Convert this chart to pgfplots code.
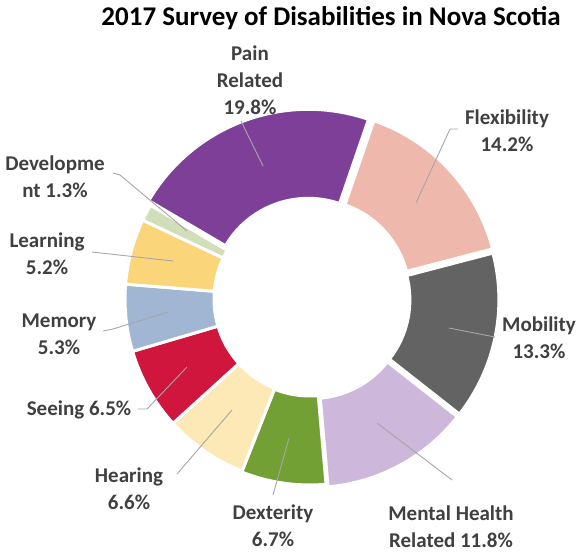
\documentclass[border=0pt]{standalone}
\usepackage{fontspec}
\setmainfont{Carlito}
\usepackage{pgfplots}
\usepackage{pgfplotstable}
\pgfplotsset{compat=1.18}
\definecolor{cFlex}{HTML}{EFB8AD}
\definecolor{cMob}{HTML}{636363}
\definecolor{cMent}{HTML}{CDB8DC}
\definecolor{cDex}{HTML}{72A035}
\definecolor{cHear}{HTML}{FDE9B6}
\definecolor{cSee}{HTML}{D0163D}
\definecolor{cMem}{HTML}{A0B6D2}
\definecolor{cLearn}{HTML}{FBD57A}
\definecolor{cDev}{HTML}{D0DEB9}
\definecolor{cPain}{HTML}{7E3F98}
\definecolor{lbl}{HTML}{404040}
\definecolor{lead}{HTML}{A6A6A6}

\pgfplotstableread{
name value expl col
Flexibility 14.2 5 cFlex
Mobility 13.3 4 cMob
MentalHealthRelated 11.8 4 cMent
Dexterity 6.7 1 cDex
Hearing 6.6 0 cHear
Seeing 6.5 0 cSee
Memory 5.3 0 cMem
Learning 5.2 0 cLearn
Development 1.3 0 cDev
PainRelated 19.8 5 cPain
}\datatable

\begin{document}
\begin{tikzpicture}
\begin{axis}[x=1pt, y=1pt, xmin=0, xmax=577, ymin=0, ymax=552, y dir=reverse,
  hide axis, clip=false, anchor=origin, at={(0,0)}]
\pgfplotsextra{%
  \path (axis cs:0,0) rectangle (axis cs:577,552);
  \def\cx{310}\def\cy{299}\def\Ro{185}\def\Ri{96}%
  \pgfplotstablegetrowsof{\datatable}%
  \pgfmathtruncatemacro\N{\pgfplotsretval-1}%
  \gdef\tot{0}%
  \foreach \i in {0,...,\N}{%
    \pgfplotstablegetelem{\i}{value}\of\datatable
    \pgfmathsetmacro\tt{\tot+\pgfplotsretval}%
    \xdef\tot{\tt}%
  }%
  \gdef\cum{19}%
  \foreach \i in {0,...,\N}{%
    \pgfplotstablegetelem{\i}{value}\of\datatable \let\vv\pgfplotsretval
    \pgfplotstablegetelem{\i}{expl}\of\datatable \let\ee\pgfplotsretval
    \pgfplotstablegetelem{\i}{col}\of\datatable \let\scol\pgfplotsretval
    \pgfmathsetmacro\ta{\cum}%
    \pgfmathsetmacro\tb{\cum+360*\vv/\tot}%
    \pgfmathsetmacro\tm{(\ta+\tb)/2}%
    \pgfmathsetmacro\ox{\cx+\ee*sin(\tm)}%
    \pgfmathsetmacro\oy{\cy-\ee*cos(\tm)}%
    \pgfmathsetmacro\sa{90-\ta}%
    \pgfmathsetmacro\sb{90-\tb}%
    \fill[fill=\scol, draw=white, line width=3pt, line join=miter]
      (axis cs:{\ox+\Ro*sin(\ta)},{\oy-\Ro*cos(\ta)})
      arc[start angle=\sa, end angle=\sb, radius=\Ro pt]
      -- (axis cs:{\ox+\Ri*sin(\tb)},{\oy-\Ri*cos(\tb)})
      arc[start angle=\sb, end angle=\sa, radius=\Ri pt] -- cycle;
    \xdef\cum{\tb}%
  }%
  % leader lines
  \begin{scope}[lead, line width=0.9pt]
  \draw (axis cs:241,121) -- (axis cs:263,166);
  \draw (axis cs:458,129) -- (axis cs:450,129) -- (axis cs:416,203);
  \draw (axis cs:495,337) -- (axis cs:449,328);
  \draw (axis cs:452,480) -- (axis cs:377,423);
  \draw (axis cs:273,495) -- (axis cs:289,438);
  \draw (axis cs:177,474) -- (axis cs:232,410);
  \draw (axis cs:138,409) -- (axis cs:147,409) -- (axis cs:187,367);
  \draw (axis cs:103,331) -- (axis cs:113,329) -- (axis cs:168,312);
  \draw (axis cs:92,252) -- (axis cs:173,261);
  \draw (axis cs:113,173) -- (axis cs:120,175) -- (axis cs:187,231);
  \end{scope}
  % labels
  \begin{scope}[every node/.style={text=lbl, font=\fontsize{21}{27}\selectfont\bfseries, align=center, inner sep=0pt}]
  \node at (axis cs:250,80) {Pain\\Related\\19.8\%};
  \node at (axis cs:507,131) {Flexibility\\14.2\%};
  \node at (axis cs:539,338) {Mobility\\13.3\%};
  \node at (axis cs:451,527) {Mental Health\\Related 11.8\%};
  \node at (axis cs:273,526) {Dexterity\\6.7\%};
  \node at (axis cs:129,489) {Hearing\\6.6\%};
  \node at (axis cs:79,410) {Seeing 6.5\%};
  \node at (axis cs:59,334) {Memory\\5.3\%};
  \node at (axis cs:47,254) {Learning\\5.2\%};
  \node at (axis cs:55,177) {Developme\\nt 1.3\%};
  \end{scope}
  \node[font=\fontsize{27}{32}\selectfont\bfseries, text=black, inner sep=0pt, anchor=base] at (axis cs:331,25) {2017 Survey of Disabilities in Nova Scotia};
}
\end{axis}
\end{tikzpicture}
\end{document}
